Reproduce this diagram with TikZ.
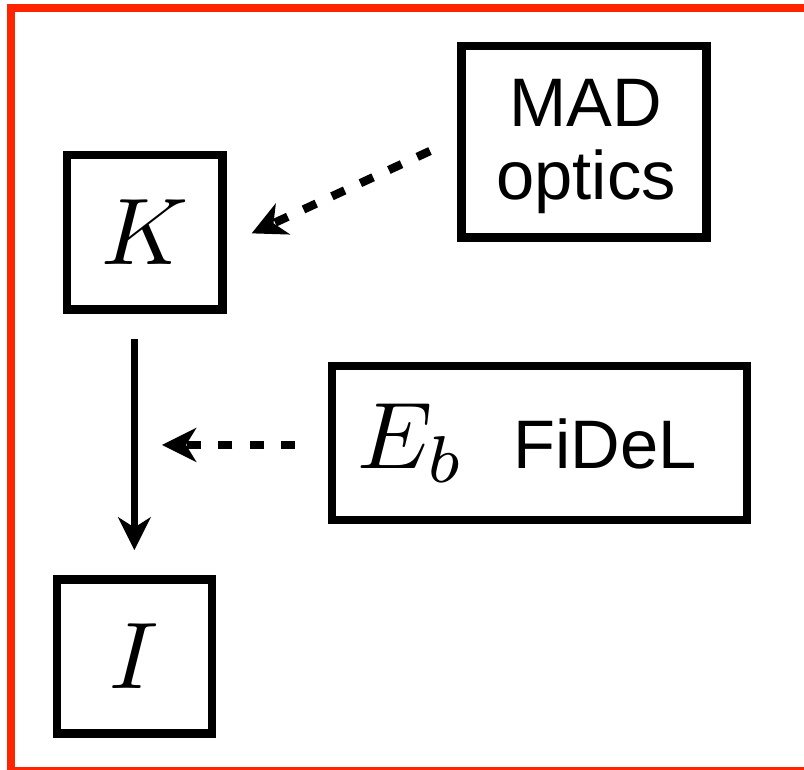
\documentclass[tikz,border=0pt]{standalone}
\usepackage{graphicx}
\usepackage{fontspec}
\setmainfont{Liberation Sans}
\usetikzlibrary{arrows.meta}
\definecolor{framered}{RGB}{255,36,0}
\newcommand{\bigmath}[1]{\scalebox{7.1}{$#1$}}
\tikzset{
  box/.style={draw, line width=6.4pt, inner sep=0pt, outer sep=0pt},
  sansbig/.style={font=\fontsize{51.5}{57}\selectfont, inner sep=0pt},
  solidarrow/.style={line width=4.7pt, -{Stealth[length=25pt,width=25pt,inset=8pt,line width=0pt]}},
  dasharrow/.style={line width=6.3pt, dash pattern=on 10.5pt off 13pt, -{Stealth[length=26pt,width=26pt,inset=8pt,line width=0pt]}}
}
\begin{document}
\begin{tikzpicture}[x=0.75pt,y=-0.75pt]
\useasboundingbox (0,0) rectangle (804,770);
\draw[framered, line width=6pt] (11,8) rectangle (812,771);
\node[box, minimum width=116.6pt, minimum height=116pt] (K) at (144.8,232.3) {\bigmath{K}};
\node[box, minimum width=183.6pt, minimum height=143.8pt] (MAD) at (584.1,141.7) {};
\node[sansbig, anchor=base] (madt) at (586,126.5) {MAD};
\node[sansbig, anchor=base] (optt) at (586,200) {optics};
\node[box, minimum width=311.3pt, minimum height=115.5pt] (Eb) at (539.3,442.8) {};
\node[anchor=base west, inner sep=0pt] (Ebt) at (357,468.3) {\bigmath{E_b}};
\node[anchor=base west, sansbig] (fidel) at (513,468.3) {FiDeL};
\node[box, minimum width=116.1pt, minimum height=115.6pt] (I) at (134.4,656.3) {\bigmath{I}};
\draw[solidarrow, shorten <=22pt, shorten >=21.8pt] (K.south -| I.north) -- (I.north);
\draw[dasharrow, shorten <=27.5pt, shorten >=20.7pt] ([yshift=-1.6pt]Eb.west) -- ([yshift=-1.6pt]Eb.west -| I.north);
\draw[dasharrow, shorten <=26.2pt, shorten >=24.1pt] ([yshift=4pt]MAD.west) -- ([yshift=-10.9pt]K.east);
\end{tikzpicture}
\end{document}
